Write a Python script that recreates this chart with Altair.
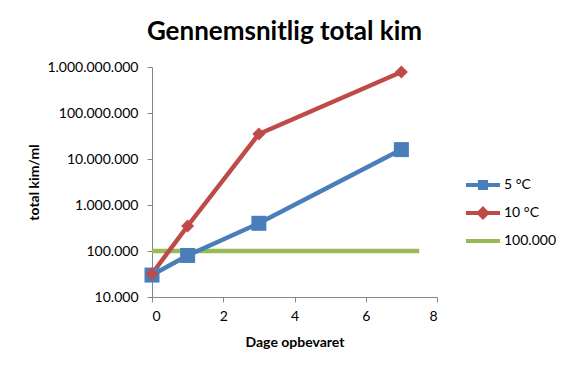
import altair as alt
import pandas as pd

series_names = ["5 °C", "10 °C", "100.000"]
days_5 = [0, 1, 3, 7]
kim_5 = [30000, 80000, 400000, 16000000]
days_10 = [0, 1, 3, 7]
kim_10 = [32000, 350000, 35000000, 780000000]
days_ref = [0, 7.5]
kim_ref = [100000, 100000]
colors = ["#4A7EBB", "#BE4B48", "#98B954"]
y_ticks = [1e4, 1e5, 1e6, 1e7, 1e8, 1e9]
x_ticks = [0, 2, 4, 6, 8]

rows = []
for name, ds, ks in [(series_names[0], days_5, kim_5),
                     (series_names[1], days_10, kim_10),
                     (series_names[2], days_ref, kim_ref)]:
    for d, k in zip(ds, ks):
        rows.append({"dag": d, "kim": k, "serie": name})
df = pd.DataFrame(rows)

FONT = "Lato"
AX = "#868686"

legend_paths = [
    "M-1.55,0H1.55M-0.28,-0.28H0.28V0.28H-0.28Z",
    "M-1.55,0H1.55M0,-0.38L0.38,0L0,0.38L-0.38,0Z",
    "M-1.55,0H1.55",
]
legend_y = [105, 133, 161]

base = alt.Chart(df).encode(
    x=alt.X("dag:Q", scale=alt.Scale(domain=[0, 8], nice=False),
            axis=alt.Axis(values=x_ticks, grid=False, domainColor=AX, tickColor=AX,
                          tickSize=5, labelFont=FONT, labelFontSize=14, labelColor="#000",
                          labelPadding=7, title="Dage opbevaret", titleFont=FONT,
                          titleFontSize=14, titleFontWeight="bold", titleColor="#000",
                          titlePadding=12)),
    y=alt.Y("kim:Q", scale=alt.Scale(type="log", domain=[1e4, 1e9], nice=False),
            axis=alt.Axis(values=y_ticks, grid=False, domainColor=AX, tickColor=AX,
                          tickSize=5, labelFont=FONT, labelFontSize=14, labelColor="#000",
                          labelPadding=9,
                          labelExpr="replace(format(datum.value, ','), /,/g, '.')",
                          title="total kim/ml", titleFont=FONT, titleFontSize=14,
                          titleFontWeight="bold", titleColor="#000", titlePadding=5)),
)

layers = []
for i, name in enumerate(series_names):
    leg = alt.Legend(
        title=None, orient="none", legendX=318, legendY=legend_y[i],
        labelFont=FONT, labelFontSize=14, labelColor="#000",
        symbolType=legend_paths[i], symbolSize=484, symbolStrokeWidth=4,
        symbolStrokeColor=colors[i], symbolFillColor=colors[i], symbolOpacity=1,
        labelOffset=8, labelLimit=200,
    )
    layers.append(
        base.transform_filter(alt.datum.serie == name).mark_line(strokeWidth=4.5).encode(
            color=alt.Color("serie:N", scale=alt.Scale(domain=[name], range=[colors[i]]),
                            legend=leg),
            order="dag:Q",
        )
    )

squares = base.transform_filter(alt.datum.serie == series_names[0]).mark_point(
    shape="square", filled=True, size=225, opacity=1, color=colors[0])
diamonds = base.transform_filter(alt.datum.serie == series_names[1]).mark_point(
    shape="diamond", filled=True, size=170, opacity=1, color=colors[1])

chart = alt.layer(layers[2], layers[0], layers[1], squares, diamonds).resolve_scale(
    color="independent"
).properties(
    width=285, height=230,
    title=alt.TitleParams("Gennemsnitlig total kim", font=FONT, fontSize=26,
                          fontWeight="bold", color="#000", anchor="middle",
                          dx=-10, offset=15),
    autosize=alt.AutoSizeParams(type="none"),
    padding={"left": 144, "top": 59, "right": 125, "bottom": 62},
    background="white",
).configure_view(stroke=None)

chart.save("out.html", embed_options={"renderer": "svg", "actions": False})
